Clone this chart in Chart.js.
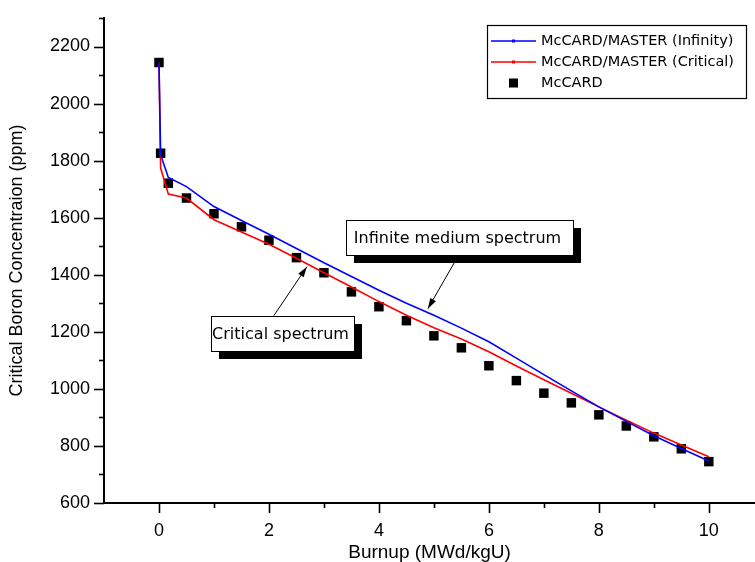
<!DOCTYPE html>
<html>
<head>
<meta charset="utf-8">
<script src="https://cdn.jsdelivr.net/npm/chart.js@4.4.0/dist/chart.umd.min.js"></script>
<style>
  html, body { margin: 0; padding: 0; background: #fff; }
  #wrap { width: 755px; height: 562px; position: relative; }
</style>
</head>
<body>
<div id="wrap"><canvas id="myChart"></canvas></div>
<script>
/******************** Data ********************/

var burnup = [0, 0.03, 0.17, 0.5, 1, 1.5, 2, 2.5, 3, 3.5, 4, 4.5, 5, 5.5, 6, 6.5, 7, 7.5, 8, 8.5, 9, 9.5, 10];
var infinityPpm = [2144, 1821, 1741, 1709, 1639, 1590, 1542, 1492, 1442, 1394, 1346, 1300, 1258, 1213, 1165, 1108, 1050, 993, 937, 886, 836, 791, 747];
var criticalPpm = [2144, 1774, 1683, 1669, 1593, 1550, 1507, 1458, 1407, 1357, 1306, 1258, 1214, 1175, 1130, 1080, 1032, 985, 937, 890, 845, 803, 762];
var mccardPpm = [2144, 1826, 1721, 1669, 1614, 1568, 1521, 1460, 1407, 1340, 1288, 1239, 1186, 1144, 1081, 1029, 985, 951, 909, 870, 832, 790, 745];

var seriesNames = ["McCARD/MASTER (Infinity)", "McCARD/MASTER (Critical)", "McCARD"];
var xTickValues = [0, 1, 2, 3, 4, 5, 6, 7, 8, 9, 10];
var xTickLabels = ["0", "", "2", "", "4", "", "6", "", "8", "", "10"];
var yTickValues = [600, 700, 800, 900, 1000, 1100, 1200, 1300, 1400, 1500, 1600, 1700, 1800, 1900, 2000, 2100, 2200, 2300];
var yTickLabels = ["600", "", "800", "", "1000", "", "1200", "", "1400", "", "1600", "", "1800", "", "2000", "", "2200", ""];

// callout boxes, anchored in data units (burnup, ppm)
var callouts = [
  { text: "Infinite medium spectrum", box: [3.40, 1593], width: 227, tail: [5.37, 1442], head: [4.89, 1281] },
  { text: "Critical spectrum", box: [0.95, 1257], width: 143, tail: [2.09, 1257], head: [2.69, 1428] }
];

function pairs(xs, ys) {
  return xs.map(function(x, i) { return { x: x, y: ys[i] }; });
}

/******************** Plugins ********************/

// major / minor tick marks
var tickMarks = {
  id: "tickMarks",
  afterDraw: function(chart) {
    var ctx = chart.ctx, ca = chart.chartArea;
    var xs = chart.scales.x, ys = chart.scales.y;
    ctx.save();
    ctx.strokeStyle = "#000";
    ctx.lineWidth = 1.6;
    xTickValues.forEach(function(v, i) {
      var px = Math.round(xs.getPixelForValue(v)) + 0.5;
      var len = xTickLabels[i] ? 10 : 5;
      ctx.beginPath();
      ctx.moveTo(px, ca.bottom);
      ctx.lineTo(px, ca.bottom + len);
      ctx.stroke();
    });
    yTickValues.forEach(function(v, i) {
      var py = Math.round(ys.getPixelForValue(v)) + 0.5;
      var len = yTickLabels[i] ? 10 : 5;
      ctx.beginPath();
      ctx.moveTo(ca.left, py);
      ctx.lineTo(ca.left - len, py);
      ctx.stroke();
    });
    ctx.restore();
  }
};

// framed legend in the top right corner
var boxLegend = {
  id: "boxLegend",
  afterDraw: function(chart) {
    var ctx = chart.ctx, ca = chart.chartArea;
    var left = ca.right - 268, top = ca.top + 7, w = 259, h = 73;
    ctx.save();
    ctx.fillStyle = "#fff";
    ctx.fillRect(left, top, w, h);
    ctx.strokeStyle = "#000";
    ctx.lineWidth = 1.2;
    ctx.strokeRect(left + 0.5, top + 0.5, w, h);
    ctx.font = "14.5px 'DejaVu Sans'";
    ctx.textBaseline = "middle";
    chart.data.datasets.forEach(function(ds, i) {
      var cy = top + 16 + i * 21;
      if (ds.showLine) {
        ctx.strokeStyle = ds.borderColor;
        ctx.lineWidth = 1.6;
        ctx.beginPath();
        ctx.moveTo(left + 4, cy);
        ctx.lineTo(left + 49, cy);
        ctx.stroke();
        ctx.fillStyle = ds.borderColor;
        ctx.fillRect(left + 25, cy - 1.5, 3, 3);
      } else {
        ctx.fillStyle = "#000";
        ctx.fillRect(left + 22, cy - 4.5, 9, 9);
      }
      ctx.fillStyle = "#000";
      ctx.fillText(ds.label, left + 54, cy);
    });
    ctx.restore();
  }
};

// text boxes with drop shadow and arrows
var calloutBoxes = {
  id: "calloutBoxes",
  afterDraw: function(chart) {
    var ctx = chart.ctx, xs = chart.scales.x, ys = chart.scales.y;
    ctx.save();
    ctx.font = "16px 'DejaVu Sans'";
    callouts.forEach(function(c) {
      var bx = Math.round(xs.getPixelForValue(c.box[0])), by = Math.round(ys.getPixelForValue(c.box[1]));
      var bw = c.width, bh = 35;
      var tw = ctx.measureText(c.text).width;
      ctx.fillStyle = "#000";
      ctx.fillRect(bx + 8, by + 8, bw, bh);
      ctx.fillStyle = "#fff";
      ctx.fillRect(bx, by, bw, bh);
      ctx.strokeStyle = "#000";
      ctx.lineWidth = 1;
      ctx.strokeRect(bx + 0.5, by + 0.5, bw, bh);
      ctx.fillStyle = "#000";
      ctx.textBaseline = "middle";
      ctx.fillText(c.text, bx + (bw - tw) / 2 - 2, by + bh / 2 + 1);

      var tx = xs.getPixelForValue(c.tail[0]), ty = ys.getPixelForValue(c.tail[1]);
      var hx = xs.getPixelForValue(c.head[0]), hy = ys.getPixelForValue(c.head[1]);
      var ang = Math.atan2(hy - ty, hx - tx);
      ctx.lineWidth = 1;
      ctx.beginPath();
      ctx.moveTo(tx, ty);
      ctx.lineTo(hx, hy);
      ctx.stroke();
      ctx.beginPath();
      ctx.moveTo(hx, hy);
      ctx.lineTo(hx - 11 * Math.cos(ang - 0.3), hy - 11 * Math.sin(ang - 0.3));
      ctx.lineTo(hx - 11 * Math.cos(ang + 0.3), hy - 11 * Math.sin(ang + 0.3));
      ctx.closePath();
      ctx.fill();
    });
    ctx.restore();
  }
};

/******************** Chart ********************/

new Chart("myChart", {
  type: "scatter",
  data: {
    datasets: [{
      label: seriesNames[0],
      data: pairs(burnup, infinityPpm),
      showLine: true,
      borderColor: "#0000ff",
      backgroundColor: "#0000ff",
      borderWidth: 1.6,
      pointRadius: 0,
      tension: 0
    }, {
      label: seriesNames[1],
      data: pairs(burnup, criticalPpm),
      showLine: true,
      borderColor: "#ff0000",
      backgroundColor: "#ff0000",
      borderWidth: 1.6,
      pointRadius: 0,
      tension: 0
    }, {
      label: seriesNames[2],
      data: pairs(burnup, mccardPpm),
      showLine: false,
      pointStyle: "rect",
      pointRadius: 6.7,
      backgroundColor: "#000",
      borderColor: "#000",
      borderWidth: 0
    }]
  },
  options: {
    responsive: true,
    maintainAspectRatio: false,
    animation: false,
    layout: { autoPadding: false, padding: { top: 18, right: 0, left: 0, bottom: 0 } },
    plugins: {
      legend: { display: false },
      tooltip: { enabled: false }
    },
    scales: {
      x: {
        type: "linear",
        min: -1,
        max: 10.84,
        afterBuildTicks: function(s) {
          s.ticks = xTickValues.map(function(v) { return { value: v }; });
        },
        afterFit: function(s) {
          s.height = 59;
          s.paddingLeft = 0;
          s.paddingRight = 0;
        },
        ticks: {
          autoSkip: false,
          maxRotation: 0,
          padding: 17,
          color: "#000",
          font: { family: "'Liberation Sans', Arial", size: 18 },
          callback: function(v, i) { return xTickLabels[i]; }
        },
        grid: { drawOnChartArea: false, drawTicks: false },
        border: { color: "#000", width: 2 },
        title: {
          display: true,
          text: "Burnup (MWd/kgU)",
          color: "#000",
          font: { family: "'Liberation Sans', Arial", size: 19 },
          padding: { top: 0, bottom: -2 }
        }
      },
      y: {
        type: "linear",
        min: 600,
        max: 2300,
        afterBuildTicks: function(s) {
          s.ticks = yTickValues.map(function(v) { return { value: v }; });
        },
        afterFit: function(s) {
          s.width = 104;
          s.paddingTop = 0;
          s.paddingBottom = 0;
        },
        ticks: {
          autoSkip: false,
          padding: 14,
          color: "#000",
          font: { family: "'Liberation Sans', Arial", size: 18 },
          callback: function(v, i) { return yTickLabels[i]; }
        },
        grid: { drawOnChartArea: false, drawTicks: false },
        border: { color: "#000", width: 2 },
        title: {
          display: true,
          text: "Critical Boron Concentraion (ppm)",
          color: "#000",
          font: { family: "'Liberation Sans', Arial", size: 18 },
          padding: { top: 6, bottom: 0 }
        }
      }
    }
  },
  plugins: [tickMarks, boxLegend, calloutBoxes]
});
</script>
</body>
</html>
